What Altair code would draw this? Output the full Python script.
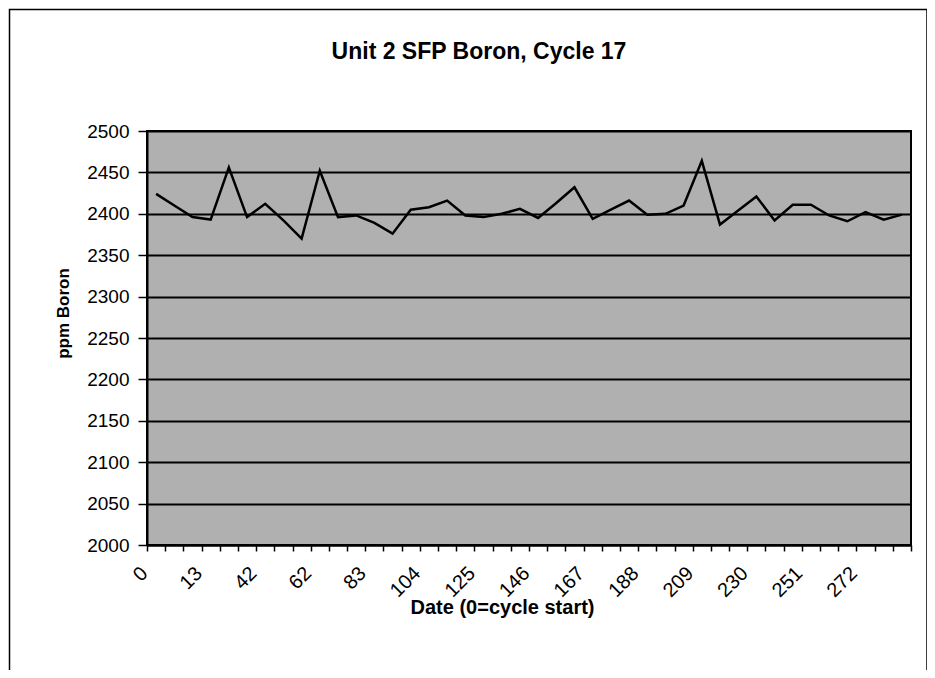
import altair as alt
import pandas as pd

# Day numbers for each sample (category axis); only every third one is labelled
days = [0, 4, 8, 13, 22, 33, 42, 49, 55, 62, 69, 76, 83, 90, 97, 104, 111, 118,
        125, 132, 139, 146, 153, 160, 167, 174, 181, 188, 195, 202, 209, 216, 223,
        230, 237, 244, 251, 258, 265, 272, 279, 286]
boron = [2424, 2410, 2396, 2393, 2456, 2396, 2412, 2392, 2370, 2452, 2396, 2398,
         2389, 2376, 2405, 2408, 2416, 2398, 2396, 2400, 2406, 2395, 2413, 2432,
         2394, 2405, 2416, 2399, 2400, 2410, 2464, 2387, 2404, 2421, 2392, 2411,
         2411, 2398, 2391, 2402, 2393, 2399]
labeled_days = [0, 13, 42, 62, 83, 104, 125, 146, 167, 188, 209, 230, 251, 272]
y_ticks = list(range(2000, 2501, 50))

title_text = "Unit 2 SFP Boron, Cycle 17"
x_title = "Date (0=cycle start)"
y_title = "ppm Boron"

FONT = "Liberation Sans"

order = [str(d) for d in days]
df = pd.DataFrame({"day": order, "boron": boron})

label_expr = ("indexof([" + ",".join("'%d'" % d for d in labeled_days)
              + "], datum.value) >= 0 ? datum.label : ''")

x_enc = alt.X(
    "day:N", sort=order, bandPosition=0.5,
    scale=alt.Scale(type="band", paddingInner=0, paddingOuter=0),
    axis=alt.Axis(
        title=x_title, labelAngle=-45, labelAlign="right", labelBaseline="middle",
        labelExpr=label_expr, labelOverlap=False, tickBand="extent",
        ticks=True, tickSize=6, tickColor="black", tickWidth=1.5,
        domainColor="black", domainWidth=2, grid=False,
        labelFont=FONT, labelFontSize=20, labelColor="black",
        labelPadding=19, labelOffset=-12,
        titleFont=FONT, titleFontSize=20, titleFontWeight="bold", titleColor="black",
        titleX=355, titleY=68, titleAlign="center", titleBaseline="alphabetic",
    ),
)

y_enc = alt.Y(
    "boron:Q",
    scale=alt.Scale(domain=[2000, 2500], nice=False, zero=False),
    axis=alt.Axis(
        title=y_title, values=y_ticks, format="d",
        tickSize=9, tickColor="black", tickWidth=1.5,
        domainColor="black", domainWidth=2,
        grid=True, gridColor="black", gridWidth=2, gridOpacity=1,
        labelFont=FONT, labelFontSize=19, labelColor="black", labelPadding=9,
        titleFont=FONT, titleFontSize=17, titleFontWeight="bold", titleColor="black",
        titleAngle=270, titleX=-84, titleY=182, titleAlign="center",
        titleBaseline="middle",
    ),
)

line = alt.Chart(df).mark_line(color="black", strokeWidth=2.5).encode(x=x_enc, y=y_enc)

border = alt.Chart(pd.DataFrame({"a": [0]})).mark_rect(
    fill=None, stroke="black", strokeWidth=1.5
).encode(
    x=alt.value(-137.5), x2=alt.value(780), y=alt.value(-121.5), y2=alt.value(600)
)

title = alt.Chart(pd.DataFrame({"t": [title_text]})).mark_text(
    font=FONT, fontSize=23, fontWeight="bold", color="black",
    align="center", baseline="alphabetic"
).encode(x=alt.value(332), y=alt.value(-72), text="t:N")

chart = alt.layer(line, border, title).properties(
    width=764, height=414,
    background="white",
    autosize=alt.AutoSizeParams(type="none"),
    padding={"left": 139, "top": 123, "right": 16, "bottom": 125},
).configure_view(
    fill="#b0b0b0", stroke="black", strokeWidth=2
)

chart.save("out.html", embed_options={"renderer": "svg", "actions": False})
